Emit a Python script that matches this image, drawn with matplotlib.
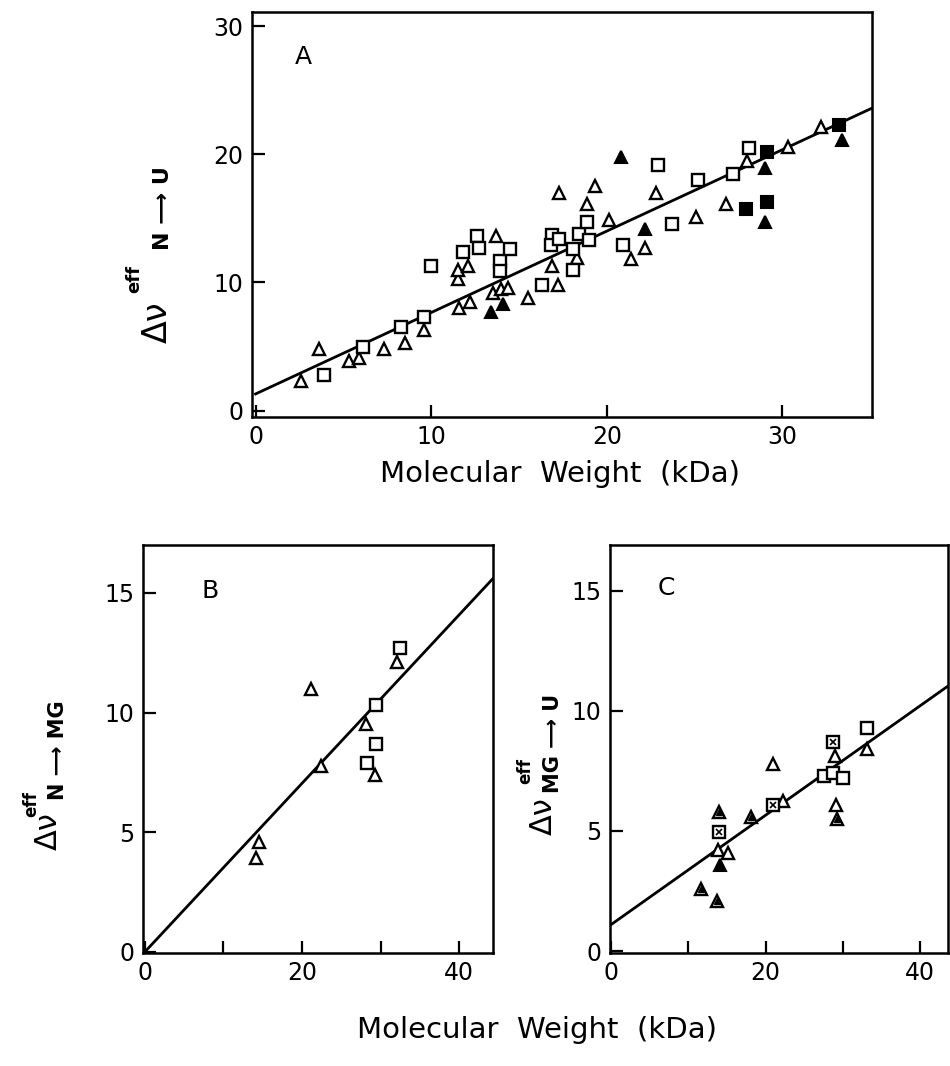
import matplotlib
matplotlib.use("Agg")
from matplotlib import pyplot as plt

plt.rcParams['font.family'] = ['DejaVu Sans']
plt.rcParams['mathtext.fontset'] = 'dejavusans'

# ---- panel A : N -> U ----
a_tri_x = [2.6, 3.6, 5.3, 5.9, 7.3, 8.5, 9.6, 11.5, 11.5, 12.1, 11.6, 12.2, 13.7, 13.5, 14.0, 14.4,
           15.5, 16.9, 17.2, 17.3, 18.9, 19.3, 18.3, 20.1, 21.4, 22.2, 22.8, 25.1, 26.8, 28.0, 30.3, 32.2]
a_tri_y = [2.3, 4.8, 3.9, 4.1, 4.8, 5.3, 6.3, 10.3, 11.0, 11.3, 8.0, 8.5, 13.6, 9.2, 9.5, 9.6,
           8.8, 11.3, 9.8, 17.0, 16.1, 17.5, 11.9, 14.9, 11.8, 12.7, 17.0, 15.1, 16.1, 19.5, 20.6, 22.1]
a_sq_x = [3.9, 6.1, 8.3, 9.6, 10.0, 11.8, 12.6, 12.7, 13.9, 13.9, 14.5, 16.3, 16.9, 16.8, 17.3,
          18.1, 18.1, 18.4, 18.9, 19.0, 20.9, 22.9, 23.7, 25.2, 27.2, 28.1]
a_sq_y = [2.8, 5.0, 6.5, 7.3, 11.3, 12.4, 13.6, 12.7, 11.7, 10.9, 12.6, 9.8, 13.7, 12.9, 13.4,
          11.0, 12.6, 13.8, 14.7, 13.3, 12.9, 19.2, 14.6, 18.0, 18.5, 20.5]
a_ftri_x = [13.4, 14.1, 20.8, 22.2, 29.0, 29.0, 33.4]
a_ftri_y = [7.7, 8.3, 19.8, 14.2, 18.9, 14.7, 21.1]
a_fsq_x = [27.9, 29.1, 29.1, 33.2]
a_fsq_y = [15.7, 16.3, 20.2, 22.3]
a_fit_x = [0, 35.1]
a_fit_y = [1.3, 23.6]

# ---- panel B : N -> MG ----
b_tri_x = [21.2, 32.1, 28.2, 29.3, 22.4, 14.5, 14.1]
b_tri_y = [11.0, 12.1, 9.5, 7.4, 7.75, 4.6, 3.9]
b_sq_x = [32.5, 29.4, 29.4, 28.3]
b_sq_y = [12.7, 10.3, 8.7, 7.9]
b_fit_x = [0, 44.3]
b_fit_y = [0, 15.6]

# ---- panel C : MG -> U ----
c_tri_x = [33.1, 29.0, 29.1, 21.0, 22.2, 13.9, 15.1]
c_tri_y = [8.4, 8.1, 6.1, 7.8, 6.25, 4.2, 4.1]
c_sq_x = [33.1, 27.6, 28.7, 30.0]
c_sq_y = [9.3, 7.3, 7.4, 7.2]
c_dsq_x = [28.7, 21.0, 14.0]
c_dsq_y = [8.7, 6.1, 4.95]
c_dtri_x = [29.2, 18.1, 14.0, 11.6, 13.7]
c_dtri_y = [5.5, 5.6, 5.8, 2.6, 2.1]
c_ftri_x = [14.1]
c_ftri_y = [3.6]
c_fit_x = [0, 43.9]
c_fit_y = [1.1, 11.1]

tick_fs = 17
mw_label = 'Molecular  Weight  (kDa)'


def style_axes(ax):
    for s in ax.spines.values():
        s.set_linewidth(1.8)
    ax.tick_params(direction='in', length=9, width=1.6, labelsize=tick_fs, pad=6)


def open_marks(ax, x, y, marker, ms):
    ax.plot(x, y, linestyle='none', marker=marker, ms=ms, mfc='white', mec='black', mew=1.7, zorder=3)


def filled_marks(ax, x, y, marker, ms):
    ax.plot(x, y, linestyle='none', marker=marker, ms=ms, mfc='black', mec='black', mew=1.5, zorder=3)


def delta_nu_label(fig, main_xy, sup_xy, sub_xy, sub_text, fs_main, fs_sup, fs_sub):
    # rotated "Δν" with "eff" above and the transition written below (positions in figure fractions)
    fig.text(main_xy[0], main_xy[1], 'Δν', rotation=90, fontsize=fs_main, ha='center', va='center')
    fig.text(sup_xy[0], sup_xy[1], 'eff', rotation=90, fontsize=fs_sup, fontweight='bold',
             ha='center', va='center')
    fig.text(sub_xy[0], sub_xy[1], sub_text, rotation=90, fontsize=fs_sub, fontweight='bold',
             ha='center', va='center')


fig = plt.figure(figsize=(9.5, 10.66), dpi=100)

# panel A
axA = fig.add_axes([0.2653, 0.6088, 0.6526, 0.3799])
axA.plot(a_fit_x, a_fit_y, color='black', lw=2.0, zorder=2)
open_marks(axA, a_tri_x, a_tri_y, '^', 9)
open_marks(axA, a_sq_x, a_sq_y, 's', 8)
filled_marks(axA, a_ftri_x, a_ftri_y, '^', 9)
filled_marks(axA, a_fsq_x, a_fsq_y, 's', 8)
axA.set_xlim(-0.2, 35.1)
axA.set_ylim(-0.5, 31.1)
axA.set_xticks([0, 10, 20, 30])
axA.set_yticks([0, 10, 20, 30])
style_axes(axA)
axA.text(2.7, 27.6, 'A', fontsize=18, ha='center', va='center')
fig.text(0.590, 0.555, mw_label, fontsize=21, ha='center', va='center')
delta_nu_label(fig, (0.166, 0.698), (0.141, 0.738), (0.172, 0.805), 'N ⟶ U', 24, 13, 16)

# panel B
axB = fig.add_axes([0.1505, 0.106, 0.3684, 0.3827])
axB.plot(b_fit_x, b_fit_y, color='black', lw=2.0, zorder=2)
open_marks(axB, b_tri_x, b_tri_y, '^', 9)
open_marks(axB, b_sq_x, b_sq_y, 's', 8)
axB.set_xlim(-0.25, 44.3)
axB.set_ylim(-0.05, 17.0)
axB.set_xticks([0, 10, 20, 30, 40])
axB.set_xticklabels(['0', '', '20', '', '40'])
axB.set_yticks([0, 5, 10, 15])
style_axes(axB)
axB.text(8.3, 15.1, 'B', fontsize=18, ha='center', va='center')
delta_nu_label(fig, (0.051, 0.220), (0.033, 0.246), (0.061, 0.296), 'N ⟶ MG', 22, 12, 15)

# panel C
axC = fig.add_axes([0.6421, 0.106, 0.3558, 0.3827])
axC.plot(c_fit_x, c_fit_y, color='black', lw=2.0, zorder=2)
open_marks(axC, c_tri_x, c_tri_y, '^', 9)
open_marks(axC, c_sq_x, c_sq_y, 's', 8)
open_marks(axC, c_dsq_x, c_dsq_y, 's', 8)
axC.plot(c_dsq_x, c_dsq_y, linestyle='none', marker='x', ms=4, mec='black', mew=1.2, zorder=4)
open_marks(axC, c_dtri_x, c_dtri_y, '^', 9)
axC.plot(c_dtri_x, c_dtri_y, linestyle='none', marker='^', ms=4, mfc='black', mec='black', zorder=4)
filled_marks(axC, c_ftri_x, c_ftri_y, '^', 9)
axC.set_xlim(-0.13, 43.6)
axC.set_ylim(-0.08, 16.9)
axC.set_xticks([0, 10, 20, 30, 40])
axC.set_xticklabels(['0', '', '20', '', '40'])
axC.set_yticks([0, 5, 10, 15])
style_axes(axC)
axC.text(7.1, 15.1, 'C', fontsize=18, ha='center', va='center')
delta_nu_label(fig, (0.572, 0.234), (0.553, 0.277), (0.582, 0.303), 'MG ⟶ U', 22, 12, 15)

fig.text(0.565, 0.034, mw_label, fontsize=21, ha='center', va='center')

fig.savefig('out.png', dpi=100)
